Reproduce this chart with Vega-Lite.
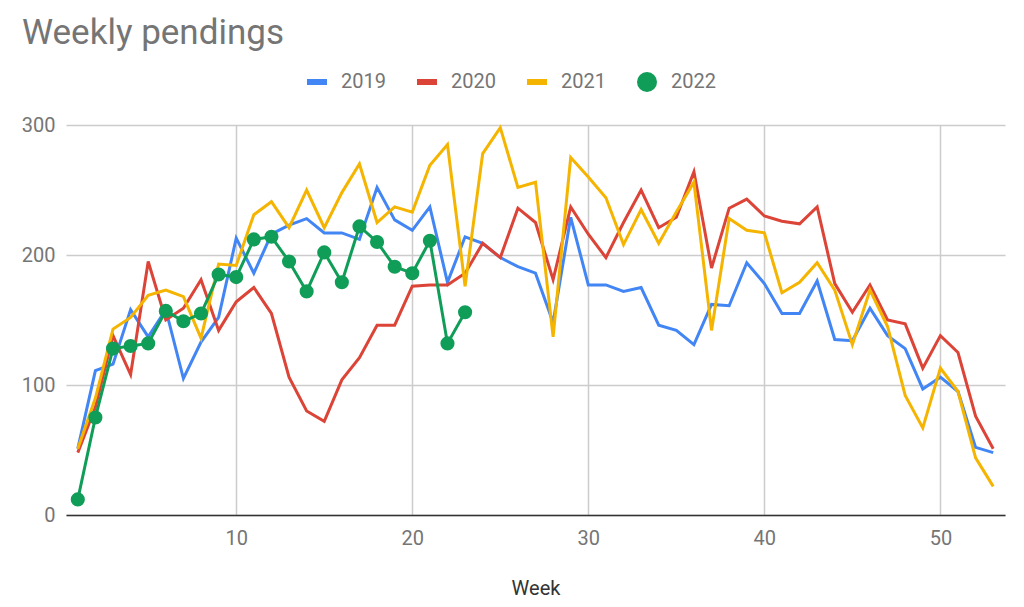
{
  "$schema": "https://vega.github.io/schema/vega-lite/v6.json",
  "width": 939,
  "height": 390,
  "autosize": "none",
  "padding": {"left": 66, "top": 125, "right": 19, "bottom": 92},
  "background": "white",
  "config": {"view": {"stroke": null}, "font": "Roboto"},
  "title": {"text": "Weekly pendings", "anchor": "start", "frame": "group", "fontSize": 35, "font": "Roboto", "fontWeight": "normal", "color": "#757575", "dx": -44, "offset": 21},
  "data": {"values": [
    {"week": 1, "2019": 51, "2020": 48, "2021": 51, "2022": 12},
    {"week": 2, "2019": 111, "2020": 83, "2021": 90, "2022": 75},
    {"week": 3, "2019": 116, "2020": 138, "2021": 143, "2022": 128},
    {"week": 4, "2019": 158, "2020": 108, "2021": 152, "2022": 130},
    {"week": 5, "2019": 137, "2020": 195, "2021": 169, "2022": 132},
    {"week": 6, "2019": 158, "2020": 150, "2021": 173, "2022": 157},
    {"week": 7, "2019": 105, "2020": 159, "2021": 168, "2022": 149},
    {"week": 8, "2019": 133, "2020": 181, "2021": 136, "2022": 155},
    {"week": 9, "2019": 152, "2020": 142, "2021": 193, "2022": 185},
    {"week": 10, "2019": 213, "2020": 164, "2021": 192, "2022": 183},
    {"week": 11, "2019": 186, "2020": 175, "2021": 231, "2022": 212},
    {"week": 12, "2019": 216, "2020": 155, "2021": 241, "2022": 214},
    {"week": 13, "2019": 223, "2020": 106, "2021": 221, "2022": 195},
    {"week": 14, "2019": 228, "2020": 80, "2021": 250, "2022": 172},
    {"week": 15, "2019": 217, "2020": 72, "2021": 221, "2022": 202},
    {"week": 16, "2019": 217, "2020": 104, "2021": 248, "2022": 179},
    {"week": 17, "2019": 212, "2020": 121, "2021": 270, "2022": 222},
    {"week": 18, "2019": 252, "2020": 146, "2021": 225, "2022": 210},
    {"week": 19, "2019": 227, "2020": 146, "2021": 237, "2022": 191},
    {"week": 20, "2019": 219, "2020": 176, "2021": 233, "2022": 186},
    {"week": 21, "2019": 237, "2020": 177, "2021": 269, "2022": 211},
    {"week": 22, "2019": 179, "2020": 177, "2021": 285, "2022": 132},
    {"week": 23, "2019": 214, "2020": 186, "2021": 176, "2022": 156},
    {"week": 24, "2019": 209, "2020": 209, "2021": 278},
    {"week": 25, "2019": 198, "2020": 198, "2021": 298},
    {"week": 26, "2019": 191, "2020": 236, "2021": 252},
    {"week": 27, "2019": 186, "2020": 225, "2021": 256},
    {"week": 28, "2019": 148, "2020": 181, "2021": 137},
    {"week": 29, "2019": 229, "2020": 237, "2021": 275},
    {"week": 30, "2019": 177, "2020": 216, "2021": 260},
    {"week": 31, "2019": 177, "2020": 198, "2021": 244},
    {"week": 32, "2019": 172, "2020": 225, "2021": 208},
    {"week": 33, "2019": 175, "2020": 250, "2021": 235},
    {"week": 34, "2019": 146, "2020": 221, "2021": 209},
    {"week": 35, "2019": 142, "2020": 229, "2021": 233},
    {"week": 36, "2019": 131, "2020": 264, "2021": 256},
    {"week": 37, "2019": 162, "2020": 190, "2021": 142},
    {"week": 38, "2019": 161, "2020": 236, "2021": 228},
    {"week": 39, "2019": 194, "2020": 243, "2021": 219},
    {"week": 40, "2019": 178, "2020": 230, "2021": 217},
    {"week": 41, "2019": 155, "2020": 226, "2021": 171},
    {"week": 42, "2019": 155, "2020": 224, "2021": 179},
    {"week": 43, "2019": 180, "2020": 237, "2021": 194},
    {"week": 44, "2019": 135, "2020": 178, "2021": 173},
    {"week": 45, "2019": 134, "2020": 156, "2021": 131},
    {"week": 46, "2019": 159, "2020": 177, "2021": 173},
    {"week": 47, "2019": 138, "2020": 150, "2021": 145},
    {"week": 48, "2019": 128, "2020": 147, "2021": 92},
    {"week": 49, "2019": 97, "2020": 113, "2021": 67},
    {"week": 50, "2019": 106, "2020": 138, "2021": 113},
    {"week": 51, "2019": 95, "2020": 125, "2021": 95},
    {"week": 52, "2019": 52, "2020": 76, "2021": 44},
    {"week": 53, "2019": 48, "2020": 51, "2021": 22}
  ]},
  "transform": [
    {"fold": ["2019", "2020", "2021", "2022"], "as": ["year", "value"]},
    {"filter": "isValid(datum.value)"}
  ],
  "encoding": {
    "x": {
      "field": "week", "type": "quantitative",
      "scale": {"domain": [0.33, 53.67], "nice": false, "zero": false},
      "axis": {"values": [10, 20, 30, 40, 50], "grid": true, "gridColor": "#cccccc", "gridWidth": 1.5, "ticks": false, "domainColor": "#333333", "domainWidth": 1.5, "labelFontSize": 20, "labelColor": "#757575", "labelFont": "Roboto", "labelPadding": 13, "title": "Week", "titleFont": "Roboto", "titleFontSize": 20, "titleFontWeight": "normal", "titleColor": "#333333", "titlePadding": 30}
    },
    "y": {
      "field": "value", "type": "quantitative",
      "scale": {"domain": [0, 300], "nice": false},
      "axis": {"values": [0, 100, 200, 300], "grid": true, "gridColor": "#cccccc", "gridWidth": 1.5, "ticks": false, "domain": false, "labelFontSize": 20, "labelColor": "#757575", "labelFont": "Roboto", "labelPadding": 11, "title": null}
    },
    "color": {
      "field": "year", "type": "nominal",
      "scale": {"domain": ["2019", "2020", "2021", "2022"], "range": ["#4285F4", "#DB4437", "#F4B400", "#0F9D58"]},
      "legend": {"orient": "none", "legendX": 241, "legendY": -53, "direction": "horizontal", "title": null, "symbolSize": 400, "labelFontSize": 20, "labelColor": "#757575", "labelFont": "Roboto", "labelOffset": 14, "columnPadding": 31, "symbolStrokeWidth": 0,
        "encode": {"symbols": {"update": {"fill": {"scale": "color", "field": "value"}, "stroke": {"value": "transparent"}, "opacity": {"value": 1}}}}}
    }
  },
  "layer": [
    {"mark": {"type": "line", "strokeWidth": 3}},
    {
      "transform": [{"filter": "datum.year == '2022'"}],
      "mark": {"type": "point", "filled": true, "size": 200, "opacity": 1},
      "encoding": {
        "shape": {
          "field": "year", "type": "nominal",
          "scale": {"domain": ["2019", "2020", "2021", "2022"], "range": ["M-1,-0.3H1V0.3H-1Z", "M-1,-0.3H1V0.3H-1Z", "M-1,-0.3H1V0.3H-1Z", "circle"]},
          "legend": {"orient": "none", "legendX": 241, "legendY": -53, "direction": "horizontal", "title": null, "symbolSize": 400, "labelFontSize": 20, "labelColor": "#757575", "labelFont": "Roboto", "labelOffset": 14, "columnPadding": 31, "symbolStrokeWidth": 0}
        }
      }
    }
  ]
}
